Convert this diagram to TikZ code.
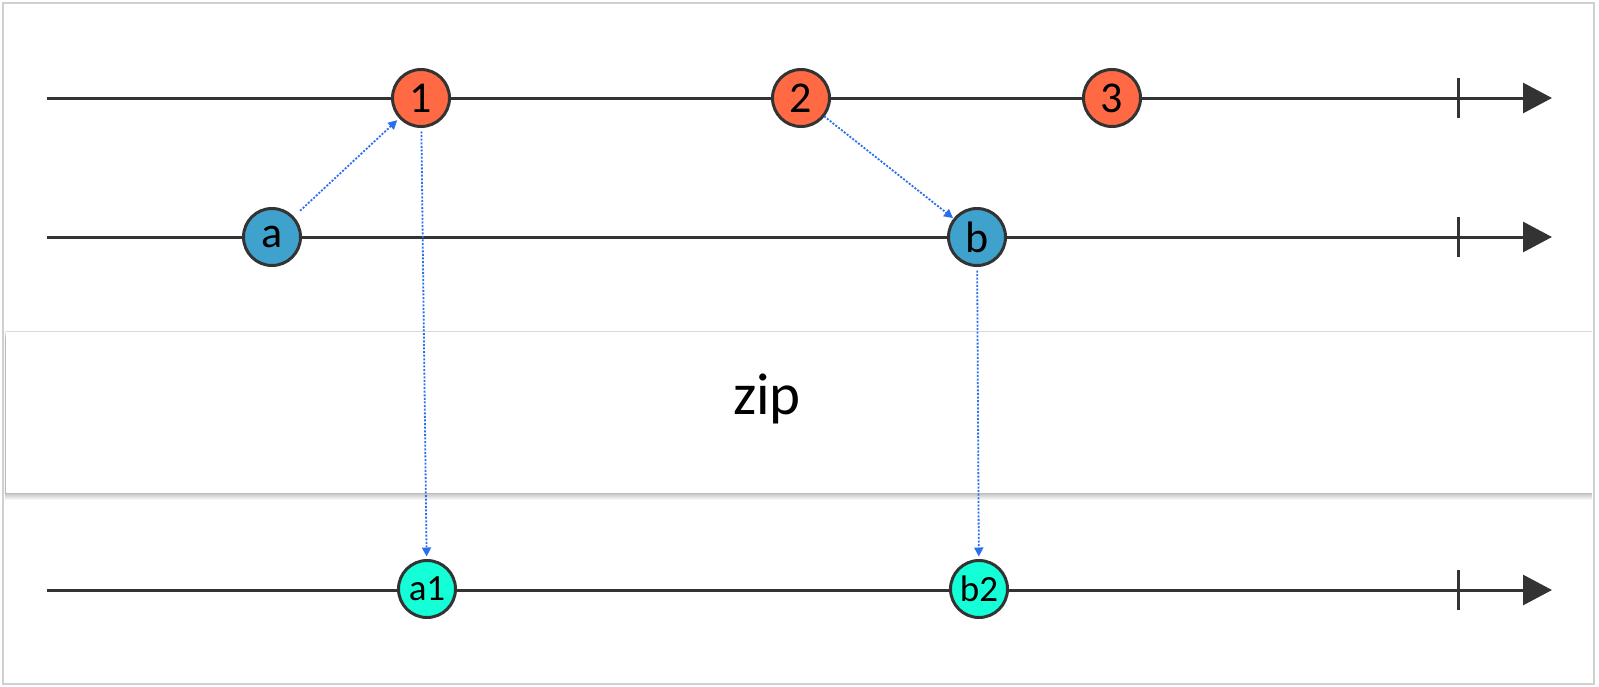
\documentclass[tikz,border=0pt]{standalone}
\usepackage{fontspec}
\setmainfont{Carlito}
\usetikzlibrary{arrows.meta}
\definecolor{linec}{HTML}{333333}
\definecolor{orangec}{HTML}{FF6A45}
\definecolor{bluec}{HTML}{3FA2CC}
\definecolor{cyanc}{HTML}{14FFD8}
\definecolor{dotc}{HTML}{2A6FF0}
\definecolor{framec}{HTML}{D0D0D0}
\tikzset{
  timeline/.style={draw=linec, line width=3pt, -{Triangle[length=29pt,width=30pt]}},
  tickmark/.style={draw=linec, line width=3pt},
  marble/.style={circle, draw=linec, line width=3pt, minimum size=57pt, inner sep=0pt, outer sep=0pt, font=\fontsize{44}{44}\selectfont},
  smallmarble/.style={marble, font=\fontsize{37}{37}\selectfont},
  src1/.style={marble, fill=orangec},
  src2/.style={marble, fill=bluec},
  outm/.style={smallmarble, fill=cyanc},
  flow/.style={draw=dotc, line width=1.8pt, dash pattern=on 2pt off 1.6pt, -{Triangle[length=9pt,width=9pt]}},
}
\begin{document}
\begin{tikzpicture}[x=1pt,y=-1pt]
\useasboundingbox (0,0) rectangle (1599,686);
\fill[white] (0,0) rectangle (1599,686);
\draw[framec, line width=2pt] (2.5,2.5) rectangle (1594,683.5);
% zip operator box with soft shadow
\foreach \i in {1,...,7} {
  \fill[black, opacity=0.035] (5,{331+\i}) rectangle (1592,{493+\i});
}
\fill[black, opacity=0.04] (4,331) rectangle (1592,494);
\fill[white] (6,331) rectangle (1592,493);
\draw[framec!80, line width=1pt] (6,331) -- (1592,331);
\node[font=\fontsize{59}{59}\selectfont, inner sep=0pt] (op) at (767,399) {zip};
% timelines
\coordinate (s1) at (47,98);  \coordinate (e1) at (1552,98);  \coordinate (t1) at (1458,98);
\coordinate (s2) at (47,237); \coordinate (e2) at (1552,237); \coordinate (t2) at (1458,237);
\coordinate (s3) at (47,590); \coordinate (e3) at (1552,590); \coordinate (t3) at (1458,590);
\draw[timeline] (s1) -- (e1);
\draw[timeline] (s2) -- (e2);
\draw[timeline] (s3) -- (e3);
\draw[tickmark] (t1) ++(0,-20) -- ++(0,40);
\draw[tickmark] (t2) ++(0,-20) -- ++(0,40);
\draw[tickmark] (t3) ++(0,-20) -- ++(0,40);
% marbles
\node[src1] (n1) at (421,98) {1};
\node[src1] (n2) at (801,98) {2};
\node[src1] (n3) at (1112,98) {3};
\node[src2] (a) at (272,237) {a};
\node[src2] (b) at (977,237) {b};
\node[outm] (a1) at (427,589) {a1};
\node[outm] (b2) at (979,589) {b2};
% flows
\draw[flow, shorten <=10pt, shorten >=4pt] (a) -- (n1);
\draw[flow, shorten <=1pt, shorten >=2pt] (n2) -- (b);
\draw[flow, shorten <=5pt, shorten >=4pt] (n1) -- (a1);
\draw[flow, shorten <=5pt, shorten >=4pt] (b) -- (b2);
\end{tikzpicture}
\end{document}
